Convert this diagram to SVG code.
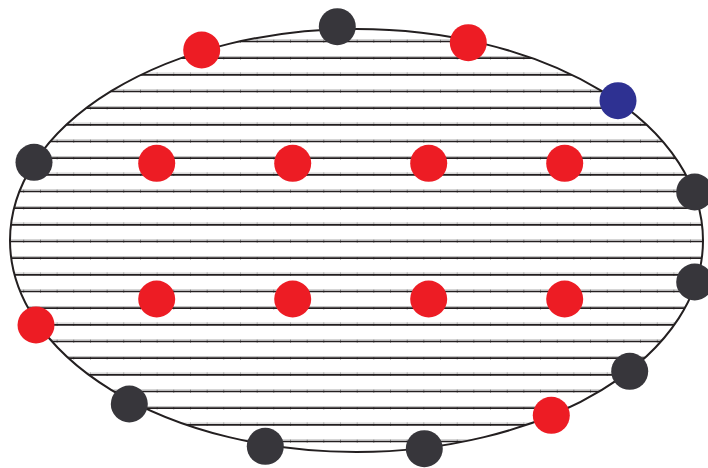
<svg xmlns="http://www.w3.org/2000/svg" width="708" height="468" viewBox="0 0 708 468">
  <style>
    .hl { stroke: #231F20; stroke-width: 1.7; fill: none; }
    .hg { stroke: #c4c4c4; stroke-width: 1; fill: none; }
    .tk { stroke: #666; stroke-width: 3.5; stroke-dasharray: 0.8 15.87; fill: none; }
    .rim { stroke: #231F20; stroke-width: 2; fill: none; }
    .red { fill: #ED1C24; }
    .dark { fill: #37363B; }
    .blue { fill: #2E3192; }
  </style>
  <defs>
    <clipPath id="ell">
      <ellipse cx="356.5" cy="240.5" rx="346.5" ry="211.5"/>
    </clipPath>
  </defs>
  <rect width="708" height="468" fill="#fff"/>
  <g id="hatching" clip-path="url(#ell)">
    <g class="tk">
      <path d="M6.7 41H708M6.7 57.67H708M6.7 74.33H708M6.7 91H708M6.7 107.67H708M6.7 124.33H708M6.7 141H708M6.7 157.67H708M6.7 174.33H708M6.7 191H708M6.7 207.67H708M6.7 224.33H708M6.7 241H708M6.7 257.67H708M6.7 274.33H708M6.7 291H708M6.7 307.67H708M6.7 324.33H708M6.7 341H708M6.7 357.67H708M6.7 374.33H708M6.7 391H708M6.7 407.67H708M6.7 424.33H708M6.7 441H708"/>
    </g>
    <g class="hg">
      <path d="M0 39.8H708M0 56.47H708M0 73.13H708M0 89.8H708M0 106.47H708M0 123.13H708M0 139.8H708M0 156.47H708M0 173.13H708M0 189.8H708M0 206.47H708M0 223.13H708M0 239.8H708M0 256.47H708M0 273.13H708M0 289.8H708M0 306.47H708M0 323.13H708M0 339.8H708M0 356.47H708M0 373.13H708M0 389.8H708M0 406.47H708M0 423.13H708M0 439.8H708"/>
    </g>
    <g class="hl">
      <path d="M0 41.5H708M0 58.17H708M0 74.83H708M0 91.5H708M0 108.17H708M0 124.83H708M0 141.5H708M0 158.17H708M0 174.83H708M0 191.5H708M0 208.17H708M0 224.83H708M0 241.5H708M0 258.17H708M0 274.83H708M0 291.5H708M0 308.17H708M0 324.83H708M0 341.5H708M0 358.17H708M0 374.83H708M0 391.5H708M0 408.17H708M0 424.83H708M0 441.5H708"/>
    </g>
  </g>
  <ellipse id="rim" class="rim" cx="356.5" cy="240.5" rx="346.5" ry="211.5"/>
  <g id="connectors"></g>
  <g id="n-top"><circle class="dark" cx="337.3" cy="26.7" r="18.5"/></g>
  <g id="n-red-tl"><circle class="red" cx="201.7" cy="50" r="18.5"/></g>
  <g id="n-red-tr"><circle class="red" cx="468.3" cy="42.7" r="18.5"/></g>
  <g id="n-blue"><circle class="blue" cx="618" cy="100.7" r="18.5"/></g>
  <g id="n-right-upper"><circle class="dark" cx="694.7" cy="192" r="18.5"/></g>
  <g id="n-left"><circle class="dark" cx="34" cy="162.3" r="18.5"/></g>
  <g id="n-in-1"><circle class="red" cx="156.7" cy="163.3" r="18.5"/></g>
  <g id="n-in-2"><circle class="red" cx="292.7" cy="163.3" r="18.5"/></g>
  <g id="n-in-3"><circle class="red" cx="428.7" cy="163.3" r="18.5"/></g>
  <g id="n-in-4"><circle class="red" cx="564.7" cy="163.3" r="18.5"/></g>
  <g id="n-in-5"><circle class="red" cx="156.7" cy="299" r="18.5"/></g>
  <g id="n-in-6"><circle class="red" cx="292.7" cy="299" r="18.5"/></g>
  <g id="n-in-7"><circle class="red" cx="428.7" cy="299" r="18.5"/></g>
  <g id="n-in-8"><circle class="red" cx="564.7" cy="299" r="18.5"/></g>
  <g id="n-red-left"><circle class="red" cx="36" cy="325" r="18.5"/></g>
  <g id="n-bottom-left"><circle class="dark" cx="129.3" cy="404" r="18.5"/></g>
  <g id="n-bottom-1"><circle class="dark" cx="265.3" cy="446.3" r="18.5"/></g>
  <g id="n-bottom-2"><circle class="dark" cx="424.3" cy="448.7" r="18.5"/></g>
  <g id="n-red-br"><circle class="red" cx="551.3" cy="415.3" r="18.5"/></g>
  <g id="n-right-bottom"><circle class="dark" cx="629.7" cy="371.3" r="18.5"/></g>
  <g id="n-right-lower"><circle class="dark" cx="694.7" cy="282" r="18.5"/></g>
</svg>
